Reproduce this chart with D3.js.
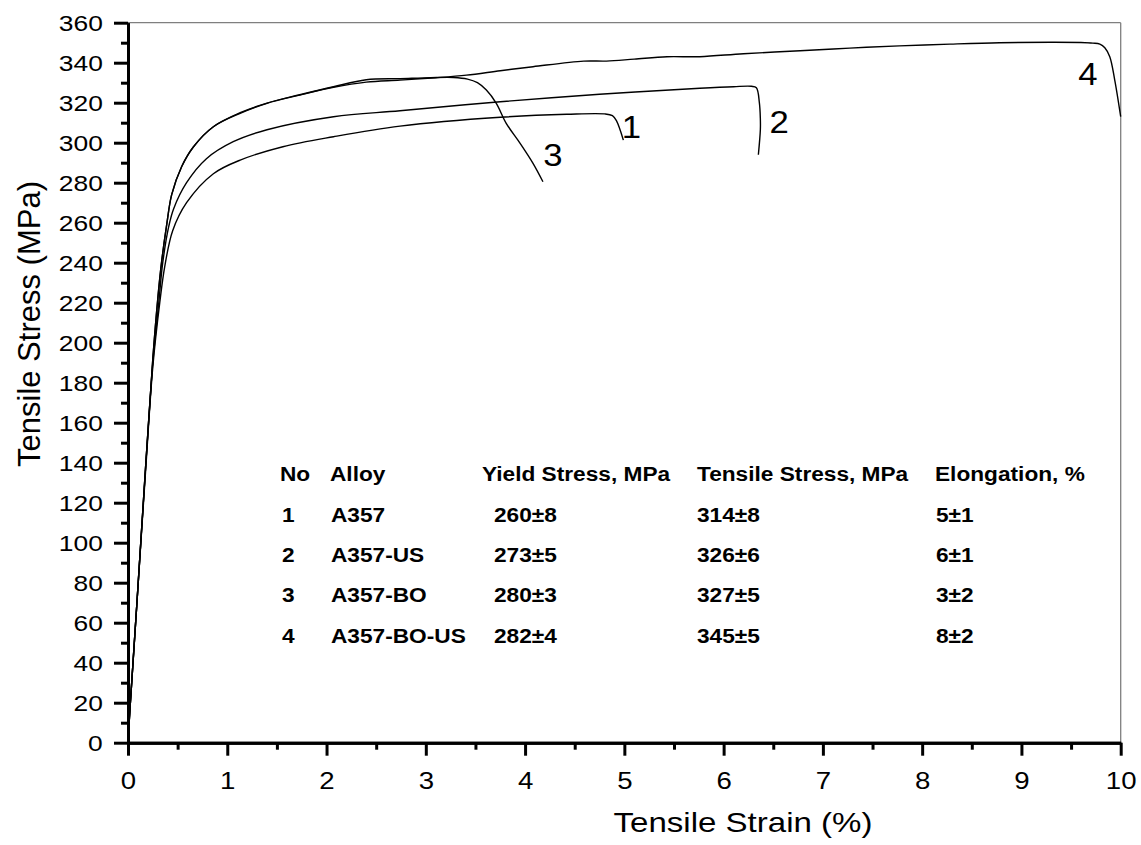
<!DOCTYPE html>
<html>
<head>
<meta charset="utf-8">
<script src="https://cdn.jsdelivr.net/npm/d3@7"></script>
<style>
  body { margin: 0; background: #fff; }
  svg { display: block; font-family: "Liberation Sans", Arial, sans-serif; }
</style>
</head>
<body>
<svg></svg>
<script>
var svgWidth = 1141, svgHeight = 845;
var fontFamily = '"Liberation Sans", Arial, sans-serif';

// stress-strain curves (strain %, stress MPa)
var strain1 = [0, 0.02, 0.09, 0.18, 0.25, 0.32, 0.37, 0.45, 0.59, 0.86, 1.13, 1.56, 2.07, 2.74, 3.75, 4.42, 4.80, 4.88, 4.92, 4.99];
var stress1 = [0, 17, 70, 138, 188, 220, 238, 256, 270, 284.5, 291.3, 298, 303, 308.3, 312.7, 314.2, 314.4, 313.5, 311, 301.3];

var strain2 = [0, 0.02, 0.09, 0.18, 0.25, 0.31, 0.35, 0.41, 0.46, 0.59, 0.79, 1.06, 1.40, 2.07, 2.74, 3.75, 4.75, 5.76, 6.10, 6.28, 6.33, 6.36, 6.37, 6.37, 6.35];
var stress2 = [0, 17, 70, 140, 190, 220, 240, 258, 267, 280, 292, 300.5, 306.5, 313, 316, 320.5, 324.2, 327.2, 328, 328.2, 327.5, 320, 312, 306.4, 294];

var strain3 = [0, 0.02, 0.09, 0.18, 0.25, 0.30, 0.34, 0.39, 0.44, 0.54, 0.66, 0.86, 1.13, 1.40, 1.73, 2.07, 2.40, 2.74, 3.05, 3.28, 3.42, 3.52, 3.61, 3.71, 3.81, 3.95, 4.08, 4.18];
var stress3 = [0, 17, 70, 140, 192, 222, 241, 259, 274, 288, 298, 308, 315, 319.8, 324, 328, 331.5, 332, 332.5, 332.6, 331.8, 330, 326.3, 319.7, 309.7, 299.7, 289.7, 280.5];

var strain4 = [0, 0.02, 0.09, 0.18, 0.25, 0.30, 0.34, 0.39, 0.44, 0.54, 0.66, 0.86, 1.13, 1.40, 1.73, 2.07, 2.40, 2.74, 3.10, 3.41, 3.75, 4.08, 4.59, 4.82, 5.10, 5.43, 5.76, 6.20, 6.77, 7.27, 7.77, 8.28, 8.78, 9.30, 9.60, 9.72, 9.79, 9.84, 9.89, 9.94, 10.0];
var stress4 = [0, 17, 70, 140, 192, 222, 241, 259, 274, 288, 298, 308, 314.7, 319.7, 323.8, 327.7, 330.3, 331.3, 332.5, 333.8, 336, 338, 340.8, 340.8, 341.8, 343, 343, 344.5, 346, 347.3, 348.4, 349.3, 350, 350.2, 350.1, 349.8, 349.3, 347.5, 343, 331.3, 313];

var curveNames = ['1', '2', '3', '4'];
var labelStrain = [5.07, 6.56, 4.28, 9.67];
var labelStress = [302.4, 304.7, 288.4, 328.9];

var xTicks = [0, 1, 2, 3, 4, 5, 6, 7, 8, 9, 10];
var yTicks = d3.range(0, 361, 20);

// table inside the plot
var tableHeader = ['No', 'Alloy', 'Yield Stress, MPa', 'Tensile Stress, MPa', 'Elongation, %'];
var alloyNo = ['1', '2', '3', '4'];
var alloyName = ['A357', 'A357-US', 'A357-BO', 'A357-BO-US'];
var yieldStress = ['260±8', '273±5', '280±3', '282±4'];
var tensileStress = ['314±8', '326±6', '327±5', '345±5'];
var elongation = ['5±1', '6±1', '3±2', '8±2'];

var x = d3.scaleLinear().domain([0, 10]).range([128, 1120.7]);
var y = d3.scaleLinear().domain([0, 360]).range([742.7, 22.7]);

var svg = d3.select('svg')
    .attr('width', svgWidth)
    .attr('height', svgHeight);

// gray frame on top and right
svg.append('line')
    .attr('x1', x(0)).attr('x2', x(10))
    .attr('y1', y(360)).attr('y2', y(360))
    .attr('stroke', '#7f7f7f').attr('stroke-width', 1.3);
svg.append('line')
    .attr('x1', x(10)).attr('x2', x(10))
    .attr('y1', y(360)).attr('y2', y(0))
    .attr('stroke', '#7f7f7f').attr('stroke-width', 1.3);

// minor ticks
svg.append('g')
    .attr('transform', 'translate(0,' + y(0) + ')')
    .call(d3.axisBottom(x).tickValues(d3.range(0.5, 10, 1)).tickSize(7).tickSizeOuter(0).tickFormat(''));
svg.append('g')
    .attr('transform', 'translate(' + x(0) + ',0)')
    .call(d3.axisLeft(y).tickValues(d3.range(10, 360, 20)).tickSize(7).tickSizeOuter(0).tickFormat(''));

var xAxis = svg.append('g')
    .attr('transform', 'translate(0,' + y(0) + ')')
    .call(d3.axisBottom(x).tickValues(xTicks).tickSize(13).tickSizeOuter(0).tickFormat(d3.format('d')));

var yAxis = svg.append('g')
    .attr('transform', 'translate(' + x(0) + ',0)')
    .call(d3.axisLeft(y).tickValues(yTicks).tickSize(14).tickSizeOuter(0).tickFormat(d3.format('d')));

svg.selectAll('.domain, .tick line')
    .attr('stroke', '#000')
    .attr('stroke-width', 3);

xAxis.selectAll('.tick text')
    .attr('y', 46)
    .attr('dy', 0)
    .attr('transform', 'scale(1.15,1)')
    .attr('font-family', fontFamily)
    .attr('font-size', 24)
    .attr('fill', '#000');

yAxis.selectAll('.tick text')
    .attr('x', -21)
    .attr('dy', '0.35em')
    .attr('transform', 'scale(1.2,1)')
    .attr('font-family', fontFamily)
    .attr('font-size', 22)
    .attr('fill', '#000');

// axis titles
svg.append('text')
    .attr('transform', 'translate(743,831.7) scale(1.16,1)')
    .attr('text-anchor', 'middle')
    .attr('font-size', 28.5)
    .text('Tensile Strain (%)');

svg.append('text')
    .attr('transform', 'translate(40,324) rotate(-90)')
    .attr('text-anchor', 'middle')
    .attr('font-size', 31)
    .text('Tensile Stress (MPa)');

// curves
var curves = [
  d3.zip(strain1, stress1),
  d3.zip(strain2, stress2),
  d3.zip(strain3, stress3),
  d3.zip(strain4, stress4)
];

var line = d3.line()
    .x(function (d) { return x(d[0]); })
    .y(function (d) { return y(d[1]); })
    .curve(d3.curveCatmullRom.alpha(0.5));

svg.selectAll('path.curve')
    .data(curves)
    .enter()
    .append('path')
    .attr('class', 'curve')
    .attr('fill', 'none')
    .attr('stroke', '#000')
    .attr('stroke-width', 1.4)
    .attr('d', line);

svg.selectAll('text.curve-label')
    .data(curveNames)
    .enter()
    .append('text')
    .attr('class', 'curve-label')
    .attr('text-anchor', 'middle')
    .attr('font-size', 31)
    .attr('transform', function (d, i) {
        return 'translate(' + x(labelStrain[i]) + ',' + y(labelStress[i]) + ') scale(1.12,1)';
    })
    .text(function (d) { return d; });

// table
var colX = [280, 330, 482, 697, 935];
var valX = [282, 331, 494, 697, 936];
var headerY = 481, rowY = [521.5, 561.5, 601.5, 642.5];

var table = svg.append('g')
    .attr('font-size', 21)
    .attr('font-weight', 'bold');

table.selectAll('text.head')
    .data(tableHeader)
    .enter()
    .append('text')
    .attr('class', 'head')
    .attr('transform', function (d, i) { return 'translate(' + colX[i] + ',' + headerY + ') scale(1.08,1)'; })
    .text(function (d) { return d; });

var columns = [alloyNo, alloyName, yieldStress, tensileStress, elongation];
columns.forEach(function (col, c) {
    table.selectAll('text.col' + c)
        .data(col)
        .enter()
        .append('text')
        .attr('class', 'col' + c)
        .attr('transform', function (d, i) { return 'translate(' + valX[c] + ',' + rowY[i] + ') scale(1.08,1)'; })
        .text(function (d) { return d; });
});
</script>
</body>
</html>
